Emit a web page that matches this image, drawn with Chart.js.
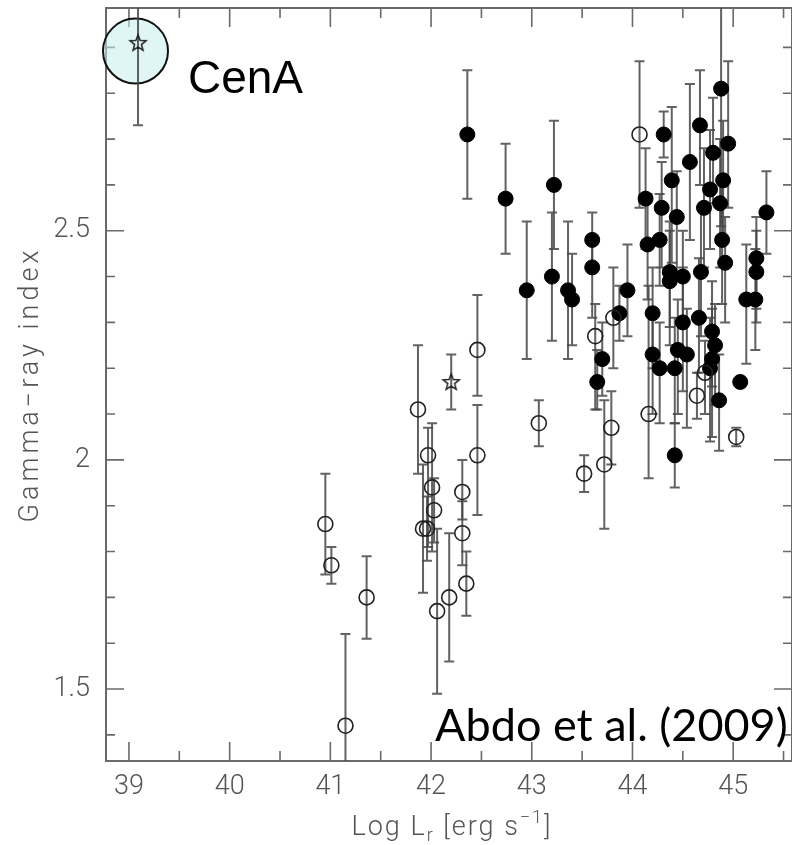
<!DOCTYPE html>
<html>
<head>
<meta charset="utf-8">
<script src="https://cdn.jsdelivr.net/npm/chart.js@4.4.1/dist/chart.umd.min.js"></script>
<style>
  html, body { margin: 0; padding: 0; background: #fff; }
</style>
</head>
<body>
<canvas id="myChart" width="792" height="845"></canvas>
<script>
const ctx = document.getElementById('myChart').getContext('2d');

// filled circles
const filledX  = [42.36, 42.74, 43.22, 42.95, 43.20, 43.36, 43.40, 43.60, 43.60, 43.65, 43.70, 43.87, 43.95, 44.15, 44.27, 44.20, 44.20, 44.27, 44.37, 44.37, 44.50, 44.50, 44.42, 44.45, 44.54, 44.68, 44.66, 44.89, 44.92, 44.79, 44.82, 44.79, 44.77, 44.86, 45.07, 45.13, 45.22, 45.23, 45.23, 45.33, 44.42, 44.31, 44.67, 44.88, 44.95, 44.57, 44.80, 44.39, 44.13, 44.29, 44.44, 44.71, 44.77, 44.90, 44.87];
const filledY  = [2.71, 2.57, 2.60, 2.37, 2.40, 2.37, 2.35, 2.48, 2.42, 2.17, 2.22, 2.32, 2.37, 2.47, 2.48, 2.32, 2.23, 2.20, 2.41, 2.39, 2.40, 2.30, 2.20, 2.24, 2.23, 2.41, 2.31, 2.48, 2.43, 2.28, 2.25, 2.22, 2.20, 2.13, 2.17, 2.35, 2.35, 2.44, 2.41, 2.54, 2.01, 2.71, 2.73, 2.81, 2.69, 2.65, 2.67, 2.61, 2.57, 2.55, 2.53, 2.55, 2.59, 2.61, 2.56];
const filledLo = [2.57, 2.45, 2.46, 2.22, 2.26, 2.22, 2.25, 2.42, 2.31, 2.11, 2.14, 2.26, 2.27, 2.35, 2.38, 2.20, 2.10, 2.08, 2.29, 2.25, 2.30, 2.15, 2.08, 2.10, 2.07, 2.27, 2.19, 2.34, 2.30, 2.16, 2.12, 2.05, 2.04, 2.02, 2.16, 2.21, 2.24, 2.33, 2.30, 2.45, 1.94, 2.66, 2.60, 2.51, 2.55, 2.48, 2.56, 2.43, 2.46, 2.42, 2.40, 2.42, 2.46, 2.48, 2.42];
const filledHi = [2.85, 2.69, 2.74, 2.52, 2.54, 2.52, 2.45, 2.54, 2.49, 2.24, 2.30, 2.38, 2.47, 2.58, 2.58, 2.42, 2.33, 2.30, 2.52, 2.50, 2.50, 2.42, 2.31, 2.35, 2.33, 2.55, 2.44, 2.62, 2.53, 2.39, 2.34, 2.33, 2.31, 2.23, 2.18, 2.47, 2.46, 2.53, 2.50, 2.63, 2.08, 2.76, 2.85, 3.10, 2.87, 2.82, 2.79, 2.77, 2.68, 2.65, 2.63, 2.68, 2.72, 2.74, 2.70];

// open circles
const openX  = [40.95, 41.01, 41.36, 41.15, 41.87, 41.97, 42.01, 42.03, 41.92, 41.96, 42.31, 42.31, 42.46, 42.46, 42.35, 42.18, 42.06, 43.07, 43.52, 43.72, 43.79, 43.63, 43.81, 44.16, 44.64, 44.72, 45.03, 44.07];
const openY  = [1.86, 1.77, 1.70, 1.42, 2.11, 2.01, 1.94, 1.89, 1.85, 1.85, 1.93, 1.84, 2.24, 2.01, 1.73, 1.70, 1.67, 2.08, 1.97, 1.99, 2.07, 2.27, 2.31, 2.10, 2.14, 2.19, 2.05, 2.71];
const openLo = [1.75, 1.73, 1.61, 1.22, 1.97, 1.81, 1.80, 1.82, 1.71, 1.78, 1.87, 1.77, 2.14, 1.88, 1.66, 1.56, 1.49, 2.03, 1.93, 1.85, 1.99, 2.11, 2.20, 1.96, 2.09, 2.10, 2.03, 2.55];
const openHi = [1.97, 1.81, 1.79, 1.62, 2.25, 2.07, 2.08, 1.96, 1.99, 1.92, 2.00, 1.91, 2.36, 2.12, 1.80, 1.84, 1.85, 2.13, 2.01, 2.13, 2.15, 2.34, 2.42, 2.38, 2.19, 2.26, 2.07, 2.87];

// stars (CenA and the other radio galaxy)
const starX  = [39.09, 42.20];
const starY  = [2.91, 2.17];
const starLo = [2.73, 2.11];
const starHi = [3.09, 2.23];

const xTicks = [39, 40, 41, 42, 43, 44, 45];
const yTicks = [1.5, 2, 2.5];
const yTickLabels = ['1.5', '2', '2.5'];

const xMin = 38.772, xMax = 45.584;
const yMin = 1.343, yMax = 2.986;

const toPoints = (xs, ys, lo, hi) => xs.map((x, i) => ({ x: x, y: ys[i], lo: lo[i], hi: hi[i] }));

// outline star used as point style
const starImg = document.createElement('canvas');
starImg.width = 20; starImg.height = 20;
(() => {
    const s = starImg.getContext('2d');
    s.beginPath();
    for (let i = 0; i < 10; i++) {
        const r = i % 2 === 0 ? 8.5 : 3.6;
        const a = -Math.PI / 2 + i * Math.PI / 5;
        const px = 10 + r * Math.cos(a), py = 10.5 + r * Math.sin(a);
        if (i === 0) s.moveTo(px, py); else s.lineTo(px, py);
    }
    s.closePath();
    s.strokeStyle = '#222';
    s.lineWidth = 1.5;
    s.stroke();
})();

const axisFont = '300 27px Roboto';
const axisColor = '#555';

// kill the automatic label overflow padding so the plot area is where we want it
const noPad = s => { s.paddingTop = 0; s.paddingBottom = 0; s.paddingLeft = 0; s.paddingRight = 0; };

// frame with inward ticks, and the highlight circle round CenA
const framePlugin = {
    id: 'frame',
    beforeDatasetsDraw(chart) {
        const { ctx, chartArea: a, scales: { x, y } } = chart;
        ctx.save();
        ctx.strokeStyle = '#6a6a6a';
        ctx.lineWidth = 2;
        ctx.strokeRect(a.left, a.top, a.right - a.left, a.bottom - a.top);
        ctx.lineWidth = 1.6;
        ctx.beginPath();
        for (let v = 39; v <= 45.5; v += 0.5) {
            const px = x.getPixelForValue(v);
            const len = Number.isInteger(v) ? 19 : 10;
            ctx.moveTo(px, a.bottom); ctx.lineTo(px, a.bottom - len);
            ctx.moveTo(px, a.top); ctx.lineTo(px, a.top + len);
        }
        for (let k = 14; k <= 29; k++) {
            const v = k / 10;
            const py = y.getPixelForValue(v);
            const len = k % 5 === 0 ? 18 : 9;
            ctx.moveTo(a.left, py); ctx.lineTo(a.left + len, py);
            ctx.moveTo(a.right, py); ctx.lineTo(a.right - len, py);
        }
        ctx.stroke();

        // CenA highlight
        const cx = x.getPixelForValue(39.065), cy = y.getPixelForValue(2.892);
        ctx.beginPath();
        ctx.arc(cx, cy, 32.5, 0, Math.PI * 2);
        ctx.fillStyle = 'rgba(196, 238, 236, 0.55)';
        ctx.fill();
        ctx.strokeStyle = '#111';
        ctx.lineWidth = 2;
        ctx.stroke();
        ctx.restore();
    },
    afterDraw(chart) {
        const { ctx, chartArea: a, scales: { x, y } } = chart;
        ctx.save();
        ctx.fillStyle = axisColor;
        ctx.font = axisFont;
        ctx.letterSpacing = '4px';
        // y title
        ctx.save();
        ctx.translate(31, (a.top + a.bottom) / 2);
        ctx.rotate(-Math.PI / 2);
        ctx.textAlign = 'center';
        ctx.textBaseline = 'middle';
        ctx.fillText('Gamma\u2212ray index', 0, 0);
        ctx.restore();

        // x title with sub- and superscript
        ctx.letterSpacing = '2px';
        ctx.textAlign = 'left';
        ctx.textBaseline = 'alphabetic';
        const small = '300 18px Roboto';
        const parts = [
            ['Log L', axisFont, 0],
            ['r', small, 6],
            [' [erg s', axisFont, 0],
            ['\u22121', small, -12],
            [']', axisFont, 0]
        ];
        let w = 0;
        parts.forEach(p => { ctx.font = p[1]; w += ctx.measureText(p[0]).width; });
        let tx = (a.left + a.right) / 2 - w / 2 + 3;
        const base = 835;
        parts.forEach(p => {
            ctx.font = p[1];
            ctx.fillText(p[0], tx, base + p[2]);
            tx += ctx.measureText(p[0]).width;
        });

        // labels
        ctx.letterSpacing = '0px';
        ctx.fillStyle = '#000';
        ctx.font = '46px "Liberation Sans"';
        ctx.fillText('CenA', x.getPixelForValue(39.586), y.getPixelForValue(2.80));
        ctx.font = '45px Lato';
        ctx.fillText('Abdo et al. (2009)', x.getPixelForValue(42.04), y.getPixelForValue(1.387));
        ctx.restore();
    }
};

// vertical error bars with caps, drawn under the markers
const errorBars = {
    id: 'errorBars',
    beforeDatasetsDraw(chart) {
        const { ctx, chartArea: a, scales: { x, y } } = chart;
        ctx.save();
        ctx.beginPath();
        ctx.rect(a.left, a.top, a.right - a.left, a.bottom - a.top);
        ctx.clip();
        chart.data.datasets.forEach(ds => {
            ctx.strokeStyle = 'rgba(70, 70, 70, 0.85)';
            ctx.lineWidth = 2;
            ds.data.forEach(p => {
                const px = x.getPixelForValue(p.x);
                const t = y.getPixelForValue(p.hi), b = y.getPixelForValue(p.lo);
                ctx.beginPath();
                ctx.moveTo(px, t); ctx.lineTo(px, b);
                ctx.moveTo(px - 5, t); ctx.lineTo(px + 5, t);
                ctx.moveTo(px - 5, b); ctx.lineTo(px + 5, b);
                ctx.stroke();
            });
        });
        ctx.restore();
    }
};

const config = {
    type: 'scatter',
    data: {
        datasets: [
            {
                label: 'open',
                data: toPoints(openX, openY, openLo, openHi),
                pointStyle: 'circle',
                pointRadius: 7.5,
                backgroundColor: 'rgba(0,0,0,0)',
                borderColor: '#222',
                borderWidth: 1.6
            },
            {
                label: 'filled',
                data: toPoints(filledX, filledY, filledLo, filledHi),
                pointStyle: 'circle',
                pointRadius: 7.5,
                backgroundColor: '#000',
                borderColor: '#000',
                borderWidth: 1
            },
            {
                label: 'star',
                data: toPoints(starX, starY, starLo, starHi),
                pointStyle: starImg,
                pointRadius: 9
            }
        ]
    },
    options: {
        responsive: false,
        animation: false,
        devicePixelRatio: 1,
        layout: { autoPadding: false, padding: { top: 8, right: 0, left: 0, bottom: 0 } },
        plugins: { legend: { display: false }, tooltip: { enabled: false } },
        scales: {
            x: {
                type: 'linear',
                min: xMin,
                max: xMax,
                grid: { display: false, drawTicks: false },
                border: { display: false },
                afterBuildTicks: s => { s.ticks = xTicks.map(v => ({ value: v })); },
                ticks: {
                    padding: 10,
                    color: axisColor,
                    font: { family: 'Roboto', weight: '300', size: 27 },
                    maxRotation: 0,
                    autoSkip: false,
                    callback: v => String(v)
                },
                afterFit: s => { s.height = 84; noPad(s); }
            },
            y: {
                type: 'linear',
                min: yMin,
                max: yMax,
                grid: { display: false, drawTicks: false },
                border: { display: false },
                afterBuildTicks: s => { s.ticks = yTicks.map(v => ({ value: v })); },
                ticks: {
                    padding: 16,
                    color: axisColor,
                    font: { family: 'Roboto', weight: '300', size: 27 },
                    autoSkip: false,
                    callback: v => yTickLabels[yTicks.indexOf(v)]
                },
                afterFit: s => { s.width = 106; noPad(s); }
            }
        }
    },
    plugins: [framePlugin, errorBars]
};

const myChart = new Chart(ctx, config);
</script>
</body>
</html>
